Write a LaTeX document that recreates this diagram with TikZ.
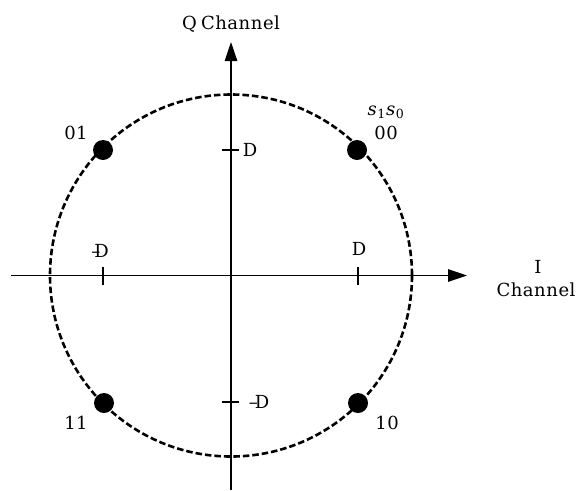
\documentclass[tikz,border=0pt]{standalone}
\usepackage{fontspec}
\setmainfont[LetterSpace=3]{DejaVu Serif}
\usetikzlibrary{arrows.meta}
\tikzset{
  lbl/.style={inner sep=0pt, font=\fontsize{18}{21}\selectfont},
  axis/.style={line width=1.3pt, -{Triangle[length=19pt,width=12.5pt]}},
  tick/.style={line width=1.3pt},
  dot/.style={circle, fill=black, minimum size=20pt, inner sep=0pt},
  ring/.style={line width=2.6pt, dash pattern=on 6.5pt off 3pt}
}
\begin{document}
\begin{tikzpicture}[x=1pt,y=-1pt]
\useasboundingbox (0,0) rectangle (585,490);
% axis end points
\coordinate (O) at (231,275.5);
\coordinate (Ileft) at (11,275.5);
\coordinate (Iright) at (467,275.5);
\coordinate (Qbot) at (231,490);
\coordinate (Qtop) at (231,42);
% circle
\draw[ring] (O) circle (181);
% axes
\draw[axis] (Ileft) -- (Iright);
\draw[axis] (Qbot) -- (Qtop);
% ticks
\coordinate (tIm) at (103,275.5);
\coordinate (tIp) at (358,275.5);
\coordinate (tQp) at (231,150);
\coordinate (tQm) at (231,402);
\draw[tick] ([yshift=-9pt]tIm) -- ([yshift=9pt]tIm);
\draw[tick] ([yshift=-9pt]tIp) -- ([yshift=9pt]tIp);
\draw[tick] ([xshift=-9pt]tQp) -- ([xshift=8pt]tQp);
\draw[tick] ([xshift=-9pt]tQm) -- ([xshift=8pt]tQm);
% dots
\node[dot] (d01) at (103,150) {};
\node[dot] (d00) at (357,150) {};
\node[dot] (d11) at (104,403) {};
\node[dot] (d10) at (358,403) {};
% labels
\node[lbl] (qlab) at (231,24) {Q\kern-2pt{} Channel};
\node[lbl] (ilab1) at (538,267) {I};
\node[lbl] (ilab2) at (536,290) {Channel};
\node[lbl] (l01) at (76,133) {01};
\node[lbl] (l00) at (386,133) {00};
\node[lbl] (ls) at (386,112) {\textit{s}\textsubscript{1}\textit{s}\textsubscript{0}};
\node[lbl] (l11) at (76,423) {11};
\node[lbl] (l10) at (387,423) {10};
\node[lbl] (Dq) at (250,150) {D};
\node[lbl] (mDq) at (259,402) {–\kern-3ptD};
\node[lbl] (Di) at (359,249) {D};
\node[lbl] (mDi) at (100,251) {–\kern-6ptD};
\end{tikzpicture}
\end{document}
